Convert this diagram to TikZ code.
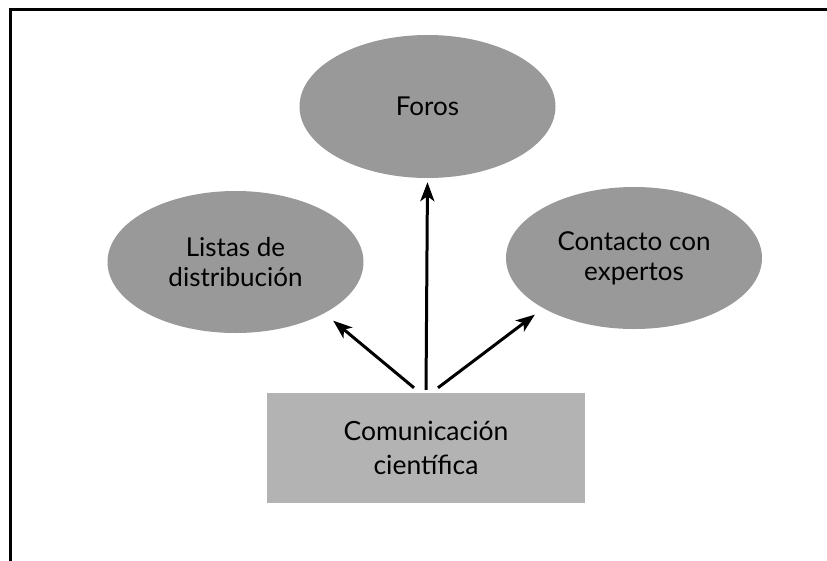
\documentclass[tikz,border=0pt]{standalone}
\usepackage{fontspec}
\setmainfont{Lato}
\usepackage{tikz}
\usetikzlibrary{positioning, shapes.geometric, arrows.meta}

\definecolor{ovalgray}{HTML}{999999}
\definecolor{boxgray}{HTML}{B3B3B3}

\tikzset{
    oval/.style={ellipse, fill=ovalgray, inner sep=0pt,
        minimum width=256pt, minimum height=142pt,
        align=center, font=\fontsize{26}{30}\selectfont},
    link/.style={line width=3pt,
        -{Stealth[length=19pt,width=14pt,inset=5pt]}}
}

\begin{document}
\begin{tikzpicture}[x=1pt, y=-1pt]

        \useasboundingbox (0,0) rectangle (827,560);

        % frame
        \draw[line width=3pt] (10.5,580) -- (10.5,9) -- (850,9);

        % Communication
        \node [fill=boxgray,
        minimum width=318pt,
        minimum height=110pt,
        align=center,
        font=\fontsize{26.5}{34}\selectfont
            ] (com) at (426,448) {Comunicación\\científica};

        \node [oval, minimum height=143pt]
            (foros) at (427.5,106.5) {Foros};

        \node [oval] (listas) at (235.5,262) {Listas de\\distribución};

        \node [oval] (contacto) at (634,258) {Contacto con\\expertos};

        % arrows
        \draw[link, shorten <=3pt, shorten >=4pt] (com.north) -- (foros.south);
        \draw[link, shorten >=11.5pt] ([shift={(-12,-5)}]com.north) -- (listas.-30);
        \draw[link, shorten >=10.5pt] ([shift={(12,-5)}]com.north) -- (contacto.-151);
        \end{tikzpicture}
\end{document}
